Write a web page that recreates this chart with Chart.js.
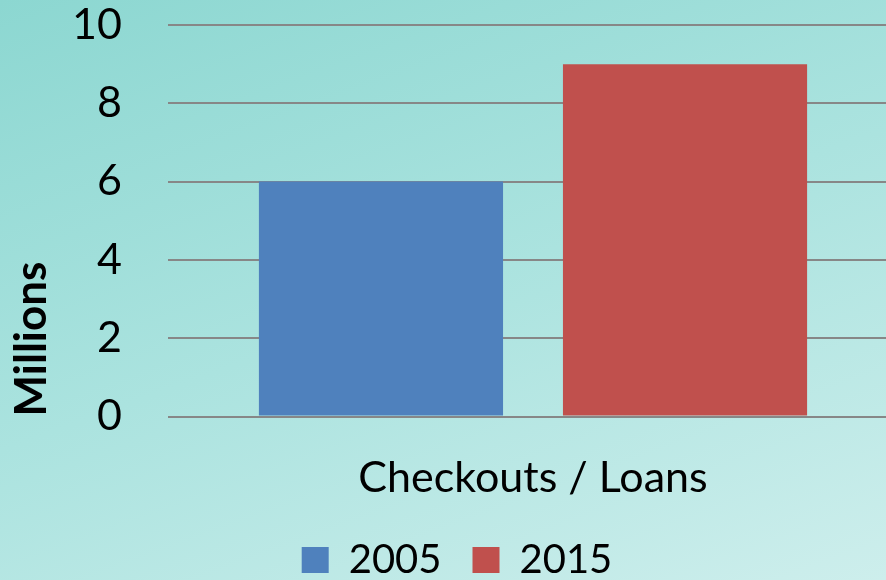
<!DOCTYPE html>
<html>
<head>
<meta charset="utf-8">
<script src="https://cdn.jsdelivr.net/npm/chart.js@4"></script>
<style>
  html, body { margin: 0; padding: 0; width: 886px; height: 580px; overflow: hidden; }
  body { background: linear-gradient(160deg, #8cd7d1 0%, #abe3df 50%, #cdeeec 100%); }
  #wrap { width: 914px; height: 580px; }
</style>
</head>
<body>
<div id="wrap"><canvas id="chart" width="914" height="580"></canvas></div>
<script>
const categories = ['Checkouts / Loans'];
const seriesNames = ['2005', '2015'];
const values2005 = [6];
const values2015 = [9];
const yTicks = [0, 2, 4, 6, 8, 10];

const font = "Lato, 'Liberation Sans', sans-serif";

const ctx = document.getElementById('chart').getContext('2d');

// legend height is set by hand so the item spacing can stay wide
const legendHeight = {
    id: 'legendHeight',
    beforeLayout(chart) {
        const legend = chart.legend;
        if (legend && !legend._fixedFit) {
            const fit = legend.fit;
            legend.fit = function () {
                fit.call(this);
                this.height = 71;
            };
            legend._fixedFit = true;
        }
    }
};

new Chart(ctx, {
    type: 'bar',
    data: {
        labels: categories,
        datasets: [{
            label: seriesNames[0],
            data: values2005,
            backgroundColor: '#4f81bd'
        }, {
            label: seriesNames[1],
            data: values2015,
            backgroundColor: '#c0504d'
        }]
    },
    options: {
        responsive: false,
        animation: false,
        categoryPercentage: 0.833,
        barPercentage: 0.803,
        layout: {
            padding: { top: 0, right: 16, bottom: 0, left: 16 }
        },
        plugins: {
            legend: {
                position: 'bottom',
                labels: {
                    color: '#000',
                    boxWidth: 27,
                    boxHeight: 26,
                    padding: 31,
                    font: { family: font, size: 40 }
                }
            },
            tooltip: { enabled: false }
        },
        scales: {
            x: {
                grid: { display: false },
                border: { display: false },
                afterFit: scale => { scale.height = 92.5; },
                ticks: {
                    color: '#000',
                    padding: 28,
                    font: { family: font, size: 43 }
                }
            },
            y: {
                min: 0,
                max: 10,
                afterBuildTicks: axis => {
                    axis.ticks = yTicks.map(v => ({ value: v }));
                },
                afterFit: scale => {
                    scale.width = 152;
                    scale.paddingTop = 25;
                    scale.paddingBottom = 0;
                },
                grid: {
                    color: '#878787',
                    lineWidth: 2,
                    drawTicks: false
                },
                border: { display: false },
                ticks: {
                    color: '#000',
                    padding: 46,
                    font: { family: font, size: 43 }
                },
                title: {
                    display: true,
                    text: 'Millions',
                    align: 'start',
                    color: '#000',
                    padding: { top: 0, bottom: 0 },
                    font: { family: font, size: 44, weight: 'bold', lineHeight: 0.7 }
                }
            }
        }
    },
    plugins: [legendHeight]
});
</script>
</body>
</html>
